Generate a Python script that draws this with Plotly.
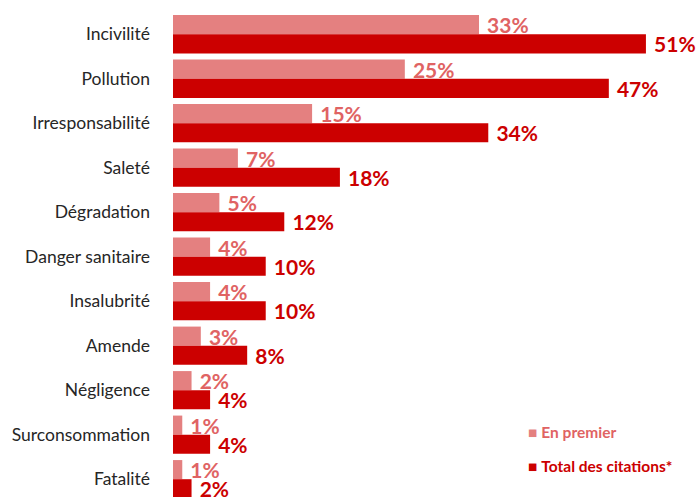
import plotly.graph_objects as go

categories = ["Incivilité", "Pollution", "Irresponsabilité", "Saleté", "Dégradation",
              "Danger sanitaire", "Insalubrité", "Amende", "Négligence",
              "Surconsommation", "Fatalité"]
en_premier = [33, 25, 15, 7, 5, 4, 4, 3, 2, 1, 1]
total_citations = [51, 47, 34, 18, 12, 10, 10, 8, 4, 4, 2]
series_names = ["En premier", "Total des citations*"]

light = "#E48080"
light_txt = "#E06363"
dark = "#CC0000"

fig = go.Figure()
fig.add_trace(go.Bar(
    y=categories, x=en_premier, orientation="h", name=series_names[0],
    marker=dict(color=light, line=dict(width=0)),
    text=[f"\u00a0{v}%" for v in en_premier], textposition="outside",
    constraintext="none",
    textfont=dict(color=light_txt, size=21, family="Lato", weight="bold"),
    cliponaxis=False, hoverinfo="skip"))
fig.add_trace(go.Bar(
    y=categories, x=total_citations, orientation="h", name=series_names[1],
    marker=dict(color=dark, line=dict(width=0)),
    text=[f"\u00a0{v}%" for v in total_citations], textposition="outside",
    constraintext="none",
    textfont=dict(color=dark, size=21, family="Lato", weight="bold"),
    cliponaxis=False, hoverinfo="skip"))

# legend drawn as text lines (square marker + label), as in the reference
for name, col, sq_col, ypos in [(series_names[0], light_txt, light, 0.134),
                                (series_names[1], dark, dark, 0.064)]:
    fig.add_annotation(
        xref="paper", yref="paper", x=0.675, y=ypos, xanchor="left", yanchor="middle",
        showarrow=False,
        text=f"<span style='color:{sq_col}'>■</span> <b>{name}</b>",
        font=dict(color=col, size=15.5, family="Lato"))

fig.update_layout(
    width=696, height=497,
    margin=dict(l=173, r=0, t=12, b=0, autoexpand=False),
    paper_bgcolor="white", plot_bgcolor="white",
    barmode="group", bargap=0.14, bargroupgap=0,
    font=dict(family="Lato", size=17.5, color="#262626"),
    xaxis=dict(range=[0, 56.4], visible=False),
    yaxis=dict(range=[10.4, -0.5], showgrid=False, zeroline=False,
               showline=False, ticks="", ticklabelstandoff=22,
               tickfont=dict(size=17.5, color="#262626")),
    showlegend=False,
)
fig.write_html("out.html", config={"displayModeBar": False},
               post_script="document.body.style.margin='0';")
